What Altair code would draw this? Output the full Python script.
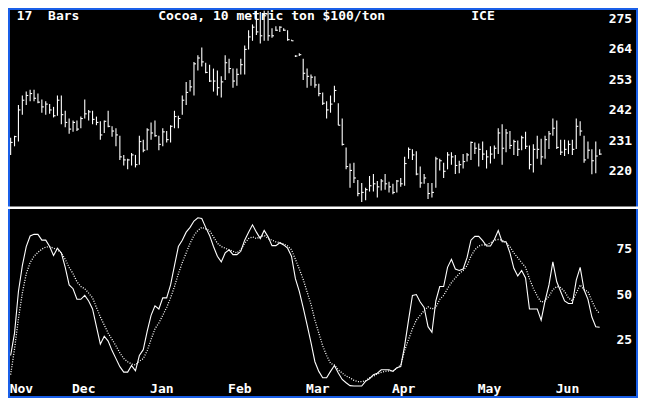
import altair as alt
import pandas as pd

# ---- price bars (17 Bars, Cocoa) ----
highs = [232.1, 232.8, 243.9, 247.3, 248.7, 249.4, 249.4, 248.0, 245.9, 245.2,
         244.2, 243.2, 247.3, 247.3, 241.8, 239.0, 238.3, 238.3, 239.7, 245.9,
         242.1, 241.8, 239.7, 238.0, 238.3, 241.8, 236.2, 235.5, 232.8, 225.9,
         224.5, 226.6, 225.9, 232.8, 231.4, 235.5, 237.6, 238.3, 232.8, 235.5,
         234.5, 236.6, 241.8, 240.0, 247.3, 252.2, 252.9, 259.4, 261.8, 264.6,
         259.1, 258.4, 257.0, 256.3, 254.2, 261.8, 260.5, 257.0, 257.0, 260.5,
         265.3, 270.8, 272.9, 277.8, 277.4, 277.8, 277.8, 271.5, 272.2, 272.2,
         271.5, 270.8, 267.4, 261.8, 262.5, 260.5, 257.0, 254.9, 254.2, 251.5,
         248.4, 245.2, 247.3, 250.8, 244.5, 239.0, 228.6, 222.8, 223.1, 216.9,
         215.8, 214.1, 218.3, 219.0, 216.5, 217.2, 219.0, 216.2, 215.5, 216.9,
         217.6, 225.2, 228.6, 227.9, 227.2, 221.7, 219.0, 215.8, 215.8, 225.2,
         224.5, 223.1, 226.9, 226.9, 225.9, 223.8, 226.2, 226.6, 230.7, 230.4,
         230.0, 230.7, 227.6, 229.0, 229.3, 235.5, 236.9, 235.2, 234.5, 231.4,
         231.1, 232.8, 234.2, 229.3, 229.7, 232.8, 231.7, 232.8, 234.5, 239.0,
         238.3, 231.4, 231.4, 231.1, 231.4, 239.0, 238.0, 232.8, 230.7, 227.9,
         230.7, 227.9]
lows = [225.9, 229.0, 230.7, 240.4, 243.9, 245.2, 245.2, 244.5, 241.1, 240.4,
        240.7, 239.4, 240.0, 236.9, 235.9, 233.5, 234.2, 234.5, 235.5, 239.0,
        238.3, 236.9, 236.6, 231.4, 233.8, 235.9, 232.4, 229.0, 224.1, 222.1,
        220.7, 222.1, 221.4, 222.4, 226.9, 227.6, 231.4, 232.4, 227.6, 229.0,
        230.4, 230.4, 235.5, 235.5, 240.4, 243.9, 248.7, 247.3, 256.3, 257.7,
        255.3, 252.2, 248.7, 247.3, 246.6, 252.9, 255.3, 250.1, 250.8, 254.9,
        254.9, 263.9, 267.0, 269.1, 266.0, 267.0, 267.0, 268.1, 270.5, 270.2,
        270.5, 267.0, 267.0, 261.2, 261.5, 252.9, 250.1, 250.8, 250.1, 247.0,
        243.9, 239.0, 241.1, 244.9, 236.6, 229.3, 220.7, 214.1, 215.8, 211.0,
        208.9, 209.6, 212.7, 212.7, 210.6, 213.1, 213.4, 212.4, 211.7, 212.4,
        214.4, 214.8, 224.5, 224.1, 218.6, 214.1, 215.5, 210.0, 210.6, 214.1,
        220.3, 217.6, 220.7, 222.4, 219.0, 219.3, 221.0, 223.5, 224.1, 226.2,
        221.7, 224.1, 221.0, 222.8, 224.5, 226.2, 222.4, 226.9, 228.0, 225.9,
        225.5, 227.6, 228.0, 220.7, 219.6, 224.5, 222.4, 224.5, 228.0, 232.8,
        228.0, 225.9, 225.5, 226.2, 225.9, 228.0, 232.8, 223.1, 224.5, 218.9,
        219.3, 225.9]
closes = [230.4, 232.5, 242.1, 245.6, 247.3, 248.0, 246.3, 244.9, 243.2, 244.2,
          242.1, 240.0, 245.6, 240.4, 237.6, 235.2, 237.6, 235.2, 239.0, 240.7,
          241.4, 238.7, 237.6, 233.1, 238.0, 236.2, 234.5, 233.1, 225.2, 224.1,
          224.1, 225.9, 222.4, 230.7, 227.6, 234.9, 233.8, 232.8, 229.7, 234.2,
          231.4, 236.2, 239.7, 239.0, 245.6, 248.4, 250.4, 258.7, 260.8, 259.4,
          255.6, 252.5, 252.5, 250.1, 252.2, 259.1, 257.0, 252.5, 254.9, 258.4,
          263.9, 268.4, 271.9, 270.2, 268.8, 276.0, 268.8, 268.8, 270.8, 271.9,
          270.8, 267.4, 267.0, 261.5, 262.0, 255.3, 254.2, 253.9, 251.1, 248.0,
          244.5, 242.1, 244.2, 249.1, 236.6, 229.7, 221.7, 220.3, 217.6, 212.0,
          212.4, 213.4, 214.8, 215.5, 214.4, 216.5, 215.5, 214.4, 212.4, 216.5,
          215.5, 222.8, 227.9, 225.9, 219.0, 215.8, 217.6, 212.0, 212.4, 224.5,
          223.8, 220.0, 225.9, 225.2, 222.1, 222.4, 223.5, 225.9, 230.4, 228.3,
          227.9, 226.2, 225.2, 226.2, 228.3, 233.8, 228.3, 233.8, 229.3, 230.7,
          227.9, 232.1, 229.0, 222.4, 227.9, 227.9, 225.2, 231.4, 233.5, 235.5,
          228.6, 226.9, 227.9, 229.7, 227.9, 236.2, 234.5, 224.1, 227.6, 223.8,
          225.5, 226.2]

# ---- stochastic oscillator ----
k_line = [16.7, 29.0, 51.8, 65.9, 76.4, 82.2, 83.1, 83.1, 79.9, 79.9,
          76.4, 71.5, 75.5, 72.9, 65.0, 55.4, 53.3, 47.5, 47.5, 49.6,
          46.6, 42.2, 32.5, 22.9, 27.3, 24.6, 19.4, 15.0, 10.6, 7.6,
          7.6, 11.2, 8.3, 16.7, 19.9, 29.9, 38.7, 43.9, 42.2, 48.3,
          48.3, 55.4, 65.9, 76.4, 79.9, 84.3, 86.9, 90.4, 92.2, 91.8,
          86.9, 82.5, 76.4, 71.1, 68.0, 72.9, 74.6, 72.0, 72.0, 73.8,
          79.9, 84.3, 88.3, 84.3, 80.8, 85.2, 81.7, 76.9, 76.9, 78.5,
          77.3, 75.5, 71.1, 58.8, 51.8, 43.0, 33.5, 23.8, 13.3, 8.0,
          4.5, 4.5, 8.0, 11.2, 7.1, 3.6, 1.8, 0.2, 0.0, 0.0,
          0.0, 2.7, 4.0, 6.2, 7.0, 8.9, 8.9, 8.9, 8.0, 10.0,
          10.6, 22.0, 36.1, 49.6, 50.1, 46.0, 43.0, 32.5, 29.4, 46.6,
          54.5, 54.5, 65.0, 69.4, 64.1, 63.3, 64.1, 70.3, 79.9, 82.0,
          82.0, 79.6, 76.7, 76.7, 80.3, 85.2, 79.0, 79.0, 72.9, 64.5,
          60.3, 63.3, 59.2, 42.2, 42.2, 42.2, 36.1, 46.6, 55.4, 68.0,
          57.1, 51.8, 46.6, 45.2, 45.2, 58.0, 65.0, 52.7, 47.5, 37.8,
          32.5, 32.2]
d_line = [6.2, 20.3, 36.9, 50.9, 61.5, 67.6, 71.1, 73.2, 75.0, 76.1,
          76.4, 75.5, 74.6, 72.9, 69.4, 65.0, 61.5, 57.1, 54.5, 53.3,
          50.9, 48.3, 43.0, 37.8, 33.4, 29.0, 25.5, 22.0, 18.2, 15.0,
          13.3, 12.0, 11.5, 13.6, 15.0, 19.4, 25.5, 31.3, 34.6, 38.7,
          43.0, 48.3, 54.5, 61.5, 67.6, 72.9, 78.2, 82.5, 85.2, 86.9,
          86.1, 85.2, 81.7, 78.2, 76.4, 75.5, 74.6, 73.8, 72.9, 74.6,
          78.2, 80.8, 81.7, 80.8, 81.7, 82.5, 80.8, 79.9, 79.0, 78.5,
          77.8, 76.7, 74.6, 69.4, 64.1, 58.4, 51.5, 44.8, 36.1, 29.0,
          22.0, 16.7, 12.4, 11.5, 8.8, 7.1, 5.4, 4.5, 3.1, 2.4,
          2.4, 2.8, 4.5, 5.4, 6.6, 7.4, 8.0, 8.3, 8.3, 9.7,
          11.5, 19.4, 25.5, 31.3, 36.1, 38.7, 41.3, 43.4, 42.2, 43.0,
          47.5, 49.6, 53.4, 56.6, 59.2, 61.5, 63.3, 65.9, 71.1, 74.6,
          76.7, 77.3, 77.3, 78.5, 79.9, 80.3, 79.9, 78.5, 76.4, 72.9,
          70.3, 67.6, 65.0, 58.8, 53.5, 49.2, 46.0, 46.6, 49.2, 52.7,
          54.5, 53.9, 51.8, 48.3, 46.6, 50.9, 55.4, 52.7, 51.8, 46.6,
          42.2, 39.6]

months = ["Nov", "Dec", "Jan", "Feb", "Mar", "Apr", "May", "Jun"]
month_start = [0, 16, 36, 56, 76, 98, 120, 140]
price_ticks = [275, 264, 253, 242, 231, 220]
osc_ticks = [75, 50, 25]
header_left = "17\u00a0\u00a0Bars"
header_mid = "Cocoa, 10 metric ton $100/ton"
header_right = "ICE"

# ---- layout (chart is 630x390 inside the page margin) ----
W, H = 630, 390
SX, SY = W / 646, H / 406
FONT = "DejaVu Sans Mono"
FS = 13

n = len(highs)
bars = pd.DataFrame({"bar": list(range(n)), "High": highs, "Low": lows, "Close": closes})
osc = pd.DataFrame({"bar": list(range(n)), "K": k_line, "D": d_line})
mon = pd.DataFrame({"month": months, "start": month_start})
pt = pd.DataFrame({"p": price_ticks})
ot = pd.DataFrame({"o": osc_ticks})
one = pd.DataFrame({"t": [0]})

x_scale = alt.Scale(domain=[0, n - 1], range=[2.7 * SX, (2.7 + 4 * (n - 1)) * SX])
price_scale = alt.Scale(domain=[220, 275], range=[170 * SY, 11 * SY], zero=False, nice=False)
osc_scale = alt.Scale(domain=[0, 100], range=[393.5 * SY, 203.5 * SY], zero=False, nice=False)

X = alt.X("bar:Q", scale=x_scale, axis=None)

hl = alt.Chart(bars).mark_rule(color="white", strokeWidth=1.1).encode(
    x=X,
    y=alt.Y("Low:Q", scale=price_scale, axis=None),
    y2="High:Q",
)
cl = alt.Chart(bars).mark_rule(color="white", strokeWidth=1.1, x2Offset=2).encode(
    x=X,
    x2="bar:Q",
    y=alt.Y("Close:Q", scale=price_scale, axis=None),
)
kl = alt.Chart(osc).mark_line(color="white", strokeWidth=1.1).encode(
    x=X,
    y=alt.Y("K:Q", scale=osc_scale, axis=None),
)
dl = alt.Chart(osc).mark_line(color="white", strokeWidth=1.3, strokeDash=[1, 1.5]).encode(
    x=X,
    y=alt.Y("D:Q", scale=osc_scale, axis=None),
)
sep = alt.Chart(one).mark_rule(color="white", strokeWidth=2.5).encode(
    x=alt.value(0), x2=alt.value(W), y=alt.value(208 * SY)
)
txt = dict(font=FONT, fontSize=FS, fontWeight="bold", color="white", baseline="middle")
plab = alt.Chart(pt).mark_text(align="right", **txt).encode(
    y=alt.Y("p:Q", scale=price_scale, axis=None),
    x=alt.value(640 * SX),
    text="p:Q",
)
olab = alt.Chart(ot).mark_text(align="right", **txt).encode(
    y=alt.Y("o:Q", scale=osc_scale, axis=None),
    x=alt.value(640 * SX),
    text="o:Q",
)
mlab = alt.Chart(mon).mark_text(align="left", dx=-1, **txt).encode(
    x=alt.X("start:Q", scale=x_scale, axis=None),
    y=alt.value(381),
    text="month:N",
)
HY = 8
h1 = alt.Chart(one).mark_text(align="left", text=header_left, **txt).encode(
    x=alt.value(9 * SX), y=alt.value(HY))
h2 = alt.Chart(one).mark_text(align="left", text=header_mid, **txt).encode(
    x=alt.value(154 * SX), y=alt.value(HY))
h3 = alt.Chart(one).mark_text(align="left", text=header_right, **txt).encode(
    x=alt.value(475 * SX), y=alt.value(HY))

chart = (
    alt.layer(hl, cl, kl, dl, sep, plab, olab, mlab, h1, h2, h3)
    .resolve_scale(y="independent")
    .properties(width=W, height=H, autosize=alt.AutoSizeParams(type="none"), padding=0,
                background="black")
    .configure_view(stroke="#1a5fe8", strokeWidth=4, fill="black")
)

chart.save("out.html", embed_options={"renderer": "svg", "actions": False})
